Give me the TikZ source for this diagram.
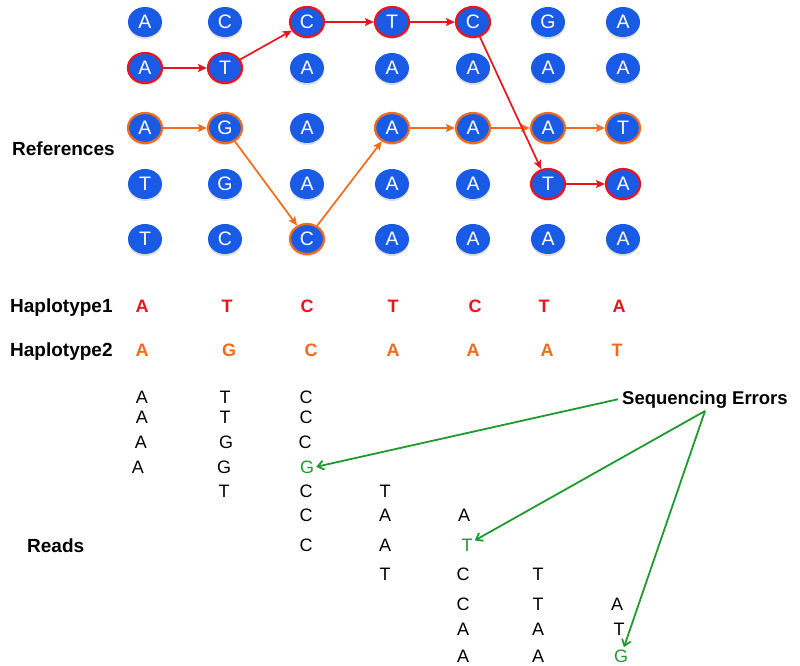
\documentclass[tikz,border=0pt]{standalone}
\usepackage{fontspec}
\setmainfont{Liberation Sans}
\usetikzlibrary{arrows.meta,shadows,shapes.geometric,calc}
\definecolor{nodeblue}{HTML}{1A5BE6}
\definecolor{hred}{HTML}{E8141E}
\definecolor{horange}{HTML}{F26A1B}
\definecolor{errgreen}{HTML}{1F9A2E}
\begin{document}
\begin{tikzpicture}[x=1pt,y=-1pt,
  base/.style={ellipse, fill=nodeblue, minimum width=34pt, minimum height=30pt, inner sep=0pt,
    text=white, font=\fontsize{19.5}{19.5}\selectfont,
    drop shadow={shadow xshift=0pt, shadow yshift=-2pt, fill=gray!60, opacity=0.45}},
  redn/.style={base, draw=hred, line width=2.2pt},
  orgn/.style={base, draw=horange, line width=2.2pt},
  redarr/.style={draw=hred, line width=1.7pt, -{Stealth[length=9pt,width=8pt,inset=2pt]}},
  orgarr/.style={draw=horange, line width=1.7pt, -{Stealth[length=9pt,width=8pt,inset=2pt]}},
  lbl/.style={font=\fontsize{19}{19}\selectfont\bfseries, anchor=base west, inner sep=2pt},
  hap/.style={font=\fontsize{18}{18}\selectfont\bfseries, anchor=base, inner sep=1pt},
  rd/.style={font=\fontsize{18}{18}\selectfont, anchor=base, inner sep=2pt},
  err/.style={rd, text=errgreen},
  garr/.style={draw=errgreen, line width=1.8pt, -{Straight Barb[length=6pt,width=9pt]}}
]
\useasboundingbox (0,0) rectangle (800,666);

\def\colx{{145,225,307,392,473,548,623}}
\foreach \r/\y/\row in {
  1/22/{A/base,C/base,C/redn,T/redn,C/redn,G/base,A/base},
  2/68/{A/redn,T/redn,A/base,A/base,A/base,A/base,A/base},
  3/128/{A/orgn,G/orgn,A/base,A/orgn,A/orgn,A/orgn,T/orgn},
  4/184/{T/base,G/base,A/base,A/base,A/base,T/redn,A/redn},
  5/239/{T/base,C/base,C/orgn,A/base,A/base,A/base,A/base}}{
  \foreach \l/\s [count=\c] in \row {
    \pgfmathsetmacro\xx{\colx[\c-1]}
    \node[\s] (n\r\c) at (\xx,\y) {\l};
  }
}

% orange haplotype path
\draw[orgarr] (n31) -- (n32);
\draw[orgarr] (n32) -- (n53);
\draw[orgarr] (n53) -- (n34);
\draw[orgarr] (n34) -- (n35);
\draw[orgarr] (n35) -- (n36);
\draw[orgarr] (n36) -- (n37);
% red haplotype path
\draw[redarr] (n21) -- (n22);
\draw[redarr] (n22) -- (n13);
\draw[redarr] (n13) -- (n14);
\draw[redarr] (n14) -- (n15);
\draw[redarr] (n15) -- (n46);
\draw[redarr] (n46) -- (n47);

\node[lbl] (refs) at (10,155) {References};
\node[lbl] (hap1) at (8,312) {Haplotype1};
\node[lbl] (hap2) at (8,356) {Haplotype2};
\node[lbl] (reads) at (25,552) {Reads};

% haplotype letters
\foreach \x/\l [count=\c] in {142/A,227/T,307/C,393/T,475/C,544/T,619/A}
  \node[hap, text=hred] (ha\c) at (\x,312) {\l};
\foreach \x/\l [count=\c] in {142/A,229/G,311/C,393/A,473/A,547/A,617/T}
  \node[hap, text=horange] (hb\c) at (\x,356) {\l};

% reads
\node[rd] (a1) at (142,403) {A};
\node[rd] (a2) at (142,423) {A};
\node[rd] (a3) at (141,448) {A};
\node[rd] (a4) at (138,473) {A};
\node[rd] (b1) at (225,403) {T};
\node[rd] (b2) at (225,423) {T};
\node[rd] (b3) at (226,448) {G};
\node[rd] (b4) at (224,473) {G};
\node[rd] (b5) at (224,497) {T};
\node[rd] (c1) at (306,403) {C};
\node[rd] (c2) at (306,423) {C};
\node[rd] (c3) at (305,448) {C};
\node[err] (c4) at (307,473) {G};
\node[rd] (c5) at (306,497) {C};
\node[rd] (c6) at (306,521) {C};
\node[rd] (c7) at (306,551) {C};
\node[rd] (d1) at (385,497) {T};
\node[rd] (d2) at (385,521) {A};
\node[rd] (d3) at (385,551) {A};
\node[rd] (d4) at (385,580) {T};
\node[rd] (e1) at (464,521) {A};
\node[err] (e2) at (467,551) {T};
\node[rd] (e3) at (463,580) {C};
\node[rd] (e4) at (463,610) {C};
\node[rd] (e5) at (463,635) {A};
\node[rd] (e6) at (463,662) {A};
\node[rd] (f1) at (538,580) {T};
\node[rd] (f2) at (538,610) {T};
\node[rd] (f3) at (538,635) {A};
\node[rd] (f4) at (538,662) {A};
\node[rd] (g1) at (617,610) {A};
\node[rd] (g2) at (619,635) {T};
\node[err] (g3) at (621,662) {G};

\node[font=\fontsize{18.5}{18.5}\selectfont\bfseries, anchor=base west, inner sep=4pt] (se) at (618,404) {Sequencing Errors};
\coordinate (sefork) at (705,411);

\draw[garr] (se.west) -- (c4.east);
\draw[garr] (sefork) -- (e2);
\draw[garr] (sefork) -- (g3);
\end{tikzpicture}
\end{document}
